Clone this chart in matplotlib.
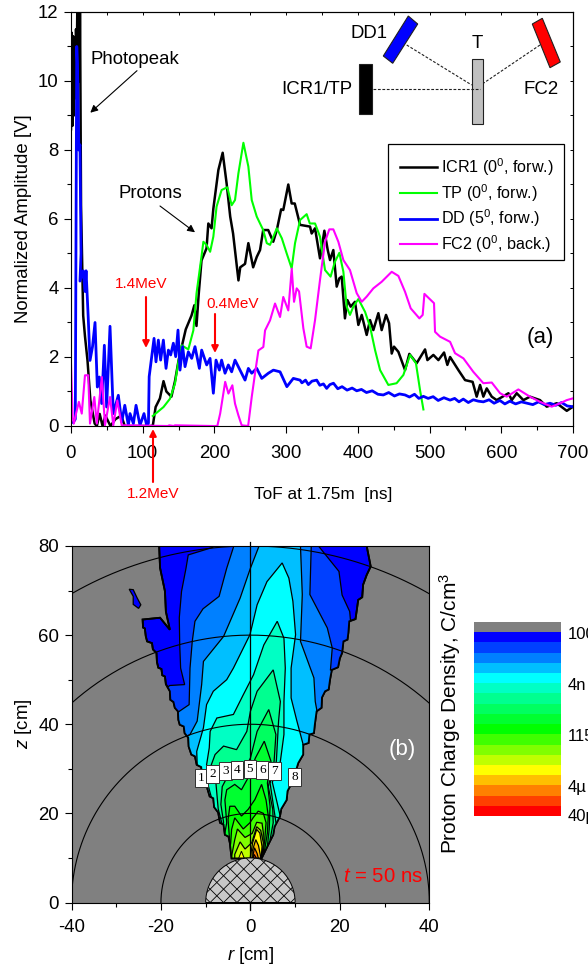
import numpy as np
import matplotlib
matplotlib.use('Agg')
import matplotlib.pyplot as plt
from matplotlib.patches import Polygon, Rectangle, Wedge
from matplotlib.transforms import Affine2D
from matplotlib.ticker import MultipleLocator

plt.rcParams['font.family'] = ['Liberation Sans', 'DejaVu Sans']
plt.rcParams['mathtext.fontset'] = 'custom'
plt.rcParams['mathtext.rm'] = 'Liberation Sans'
plt.rcParams['mathtext.it'] = 'Liberation Sans:italic'
plt.rcParams['mathtext.default'] = 'regular'
plt.rcParams['axes.unicode_minus'] = False

# panel (a): time of flight traces
icr_t = [0,1,2,3,4,5,6,7,8,9,10,11,12,12.5,14,17,19.5,23,27,33,36,40,44,48,55,62,70,75,80,112,114,118,124,129,133,140,145,150,
         160,168,172,175,178,182,189,191.5,196,198.5,205.5,211.5,217,222,226,233.5,236,242.7,247.3,254,259,263.6,268,275,282,287,293,
         296,303,307.7,312,315,319.4,333.3,335.6,340.3,347.2,353.3,358,361.2,365.8,370.5,374.2,377.5,382,385.4,390,396,400.7,405.4,
         412.3,417,421.6,428.6,433.2,439.3,443.5,447.2,450.4,456.5,465.8,471.8,482,493.7,497,505.3,512.3,520.2,524.8,528.6,540.2,
         549.5,560,565.7,570.4,575,579.7,586.7,593.6,610,614.6,621.5,630.8,640,654,663.4,677.3,691.3,700]
icr_v = [8.6,11.4,8.7,11.3,9,11,9.5,11.5,10.5,12.5,11.3,12.5,10,12.5,6.4,3.2,2.6,1.9,0.75,0.07,0,0.35,0,0.3,0,0.2,0.3,0,0,0,0,0.55,0.8,1.3,1,
         0.85,1.3,1.9,2.8,3.2,3.5,2.9,3.8,4.8,5.15,5.87,5.73,6.3,7.42,7.92,7.03,6.07,5.58,4.22,4.6,4.7,5.3,4.6,4.9,5.1,5.68,5.68,5.34,5.68,6.28,
         6.26,7,6.45,6.45,6.2,5.83,5.78,5.58,5.73,4.86,5.66,5.1,4.81,5.1,4.04,4.28,4.33,3.12,3.65,3.46,3.6,2.93,3.22,
         2.64,3.07,2.78,3.27,2.78,3.22,2.98,2.1,2.3,2.15,1.62,2.09,1.82,2.22,1.91,2.06,1.91,2.13,1.77,2,1.62,
         1.33,1.28,0.85,1.19,0.85,1.09,0.85,0.75,0.95,0.75,0.95,0.75,0.85,0.75,0.56,0.66,0.44,0.56]

tp_t = [114,129,138,145,150,154.3,163.6,170.6,175,182.2,184.6,189,194,198.5,203,210,218,224,228.7,233.4,240.4,247.3,252,259,268,273,277.5,
        287,294,300.8,307.7,312.4,319.4,328.6,333,340.3,347.2,354.2,362,368,374.2,379.8,384.4,389,393.7,400.7,410,417,424,431,442.5,454,463.5,
        472.8,481,486.7,491.4]
tp_v = [0.29,0.55,0.79,1.23,1.9,2.34,2.22,2.77,3.84,4.95,5.34,5.25,5.05,5.49,6.36,6.84,6.92,6.4,6.55,7.32,8.21,7.52,6.55,6.07,5.68,5.3,5.25,
        5.73,5.44,5,4.57,5.3,5.97,6.14,5.87,5.87,5.49,4.52,4.33,4.76,5.02,4.47,3.46,3.22,3.46,3.68,3.31,2.88,2.2,1.62,1.19,1.24,1.48,
        2.06,1.82,1.04,0.48]

dd_t = [3,6,8,9,11,12.5,14,12.5,17,19.5,21,24,26.5,30,33.5,36.7,39.5,42.8,46.5,49.7,54.4,59,66,70.7,75,80,82.3,87,90.7,96.2,101.8,105.5,108,
        109,112.5,115.8,118.5,121.8,125,128.8,132.5,135.8,139,142.7,146,149.2,152,155.7,159,163.6,168.3,172.9,179,182.2,189.2,193.9,198.5,202.2,
        206.9,210,214.8,219.4,224,228.7,235.7,242.7,247.3,252,259,266,275.2,282.2,291.5,301,310,319.4,322,327,331,336,342.6,347,352,356.5,361,366,372,378,385,392,398.4,405,412,420,428,435.5,
        443,451,458,465.8,472,479,485,491.4,498,505,512,520,528.6,535,541,547,554,561,568,575,583,590,598,605,612,620,628,636,
        644,652,660,668,676,684,692,699.6]
dd_v = [0.1,0.2,11,10.5,8,8.15,5,4.2,4.5,3.9,4.5,3.15,1.9,2.3,3,1.13,1.42,0.65,2.34,0.55,2.89,0.36,0.89,0.12,0.6,0.02,0.36,0.07,0.6,0.02,0.36,0.02,0.08,
        1.43,2,2.54,1.86,2.49,1.91,2.49,1.67,2.2,2.06,2.4,2.01,2.78,1.62,2.3,1.72,2.15,1.96,2.3,1.67,2.2,1.77,1.96,0.95,1.91,
        1.62,1.91,1.53,1.77,1.57,1.91,1.62,1.33,1.67,1.53,1.67,1.38,1.53,1.62,1.57,1.14,1.38,1.33,1.25,1.33,1.2,1.3,1.33,1.18,1.22,1.09,1.2,1.24,1.08,1.14,1.04,1.1,1.02,1.06,0.97,1.02,0.92,0.9,
        0.97,0.87,0.93,0.9,0.84,0.92,0.8,0.86,0.8,0.85,0.74,0.82,0.75,0.8,0.7,0.78,0.68,0.76,0.72,0.7,0.76,0.66,0.74,0.64,0.72,0.64,0.7,0.66,
        0.62,0.7,0.62,0.66,0.6,0.68,0.58,0.56]

fc_t = [0,2.3,4,7,11,15,19.5,24,26.5,32.5,36,43,47.4,54.4,59,64.6,70.7,135,137,143,145,197,204,208,215,219.5,225,228.7,233.4,238,247,252,256.6,261.3,
        268.2,270.6,277.5,284.5,291.5,296,303,307.8,311,314.7,318,324,328.6,334.2,340.3,347.2,354.2,360.2,365.8,372.8,379.8,389,398.4,405.4,412.3,
        421.6,433.2,447.2,456.5,465.8,473.7,485.8,490.4,492.8,500.7,506.2,507.6,514.6,528.6,535.5,547.2,561,575,586.7,598.3,607.6,623.8,640,654,
        670.3,682,691.3,699.6]
fc_v = [1.8,0.26,0.07,0.36,0.7,0.36,1.47,1.47,0.07,0.84,0.07,1.42,0.02,0.84,0.02,0.74,0.02,0,0.02,0,0.02,0,0,0.36,1.28,0.94,1.18,0.65,0.31,0.02,0,0.84,1.52,2.19,
        2.29,2.77,3.06,3.55,3.16,3.74,3.35,4.56,3.6,3.99,3.9,2.83,2.3,2.25,3.07,4.23,5.34,5.7,5.7,5.34,4.81,4.52,3.85,3.6,3.75,
        3.99,4.18,4.47,4.35,3.89,3.41,3.12,3.22,3.83,3.67,3.56,2.73,2.59,2.44,2.11,1.96,1.57,1.24,1.26,0.95,0.85,1.06,0.85,0.7,
        0.56,0.66,0.75,0.8]

trace_labels = ['ICR1 (0$^{0}$, forw.)', 'TP (0$^{0}$, forw.)', 'DD (5$^{0}$, forw.)', 'FC2 (0$^{0}$, back.)']

# panel (b): proton charge density map, nested contour outlines as (r, z) in cm
level_01 = [(-20.4,80),(-20.2,75.1),(-19.1,69.8),(-18.9,65.3),(-18,61.2),(-20.2,63.9),(-24.1,63.5),(-24,61.7),(-23.6,61.5),(-23.4,59.8),(-23.1,58.6),
            (-22,58.2),(-21.8,56.8),(-21,56),(-20.9,54),(-20.6,52.7),(-19.9,52.4),(-19.7,51),(-19.1,50.7),(-18.9,49),(-18,47.4),(-17.9,45.5),(-17.2,45),(-16.9,43.7),(-16.2,42.9),
            (-16.1,41),(-15.8,39.9),(-14.9,39.5),(-14.7,38),(-13.9,37),(-13.8,35),(-13.2,33.2),(-12.4,32.8),(-12,30.9),(-11,30.4),(-10.8,28.6),(-9.8,27.6),(-9.6,25.5),(-9.1,23.8),
            (-8.3,23.4),(-8.1,21.4),(-7.2,20.2),(-6.8,17.9),(-6,17.5),(-5.7,15.2),(-4.9,14.8),(-4.6,13.4),(-4.2,9.9),
            (2.5,9.9),(4,13),(5.1,15.2),(5.4,17),(6.6,19.3),(6.9,21),(8.1,23),(8.3,25),(8.8,26),(9.7,26.4),(10,29),(10.7,31.3),(11.8,33.2),(11.8,35.4),(13,35.8),(13.2,37.7),(14.2,38),(14.4,39.9),
            (14.8,42.9),(15.9,43.7),(16,46),(16.7,47.4),(17.5,47.8),(17.8,50),(18.2,52.2),(19.6,52.8),(20,54.8),(20.5,56),(20.8,58.6),(21.7,59),(21.9,60.5),(22.1,63.1),(23.5,63.6),(23.8,65.7),
            (24.1,67.9),(25,68.5),(25.2,71.3),(26,73.5),(26.9,75.4),(26,80)]
level_island = [(-27.1,70.3),(-26.2,70.2),(-25.3,68.3),(-24.5,66.8),(-25,66),(-26.2,66.9),(-26.2,68.7)]
level_02 = [(-8.4,79.7),(-13.9,78),(-14.4,75),(-15.4,69.8),(-15.9,63.9),(-15.8,57.8),(-15.6,52.6),(-14.7,48.9),(-18,48.7),(-22,46),(-22,5),(30,5),(30,60),(22.4,63),
            (22.2,65.3),(20.5,69),(19.8,74.3),(15.3,79.9),(15.3,82),(-7,82)]
level_03 = [(-3.8,82),(-3.8,79.7),(-5.3,75),(-7,68.7),(-10.6,65.9),(-12.4,63.1),(-13,58.6),(-13.5,52.6),(-13.7,44.4),(-15.9,42.9),(-20,40),(-20,5),(22,5),(22,50),
            (17.9,52.2),(18.3,57.1),(17.2,61.6),(13.3,69.1),(13.6,79.9),(13.6,82)]
level_04 = [(1.9,82),(1.9,79.9),(0,75),(-2.3,68.3),(-6,59.7),(-10.5,54.1),(-10.9,48.9),(-11.9,40.7),(-13.5,37.7),(-18,35),(-18,5),(18,5),(18,40),
            (14.9,42.9),(14.5,45.1),(14.2,50.4),(11.2,58.6),(11.6,69.1),(11.2,79.9),(11.2,82)]
level_05 = [(7.1,76.2),(3.7,72),(1.5,66.8),(-0.1,60.1),(-3.8,52.6),(-5.3,50),(-8.3,47.4),(-9.8,44.4),(-10.5,39.2),(-12,33.9),(-11.9,30.9),(-16,28),(-16,5),(15,5),(15,33),
            (11.8,35.4),(11.2,37.7),(10.4,40.7),(9.1,45.9),(9.1,52.6),(10.1,60.1),(9.5,67.6),(8.6,72.8)]
level_06 = [(6,63.1),(3,57.8),(0.7,51.1),(-1.6,46.6),(-3.8,42.2),(-7.5,41.4),(-9,38.4),(-9.2,34.7),(-9.8,30.9),(-9.4,26.1),(-7.6,19.4),(-9,17),(-9,5),(9,5),(9,17),
            (6.6,19.7),(4.9,27),(6.7,31.7),(7.5,37.7),(7.5,45.1),(7.8,52.6),(7.5,59.3)]
level_07 = [(5.1,52.2),(1.5,47.4),(0,42.9),(-0.8,38.4),(-3.1,34.3),(-6,35.1),(-7.9,33.2),(-9,30.2),(-7.9,29),(-7.2,21),(-6.4,17.9),(-8,15),(-8,5),(8,5),(8,15),
            (5.7,18),(4.4,26.8),(5.8,31.7),(6.3,40.7),(6.7,45.1)]
level_08 = [(4.1,43.3),(1.5,38.4),(0,32.4),(-1.6,29.4),(-5,28.5),(-6.3,26),(-6.6,22),(-6,18),(-7,14),(-7,5),(7,5),(7,14),(4.4,14.1),(5.1,17.9),(5,20.9),(4,26),(5.3,31.7),(5.7,37.7)]
level_09 = [(3.1,36.2),(1.1,32.4),(-0.5,28),(-2,25.3),(-3.5,26.5),(-5.3,25.3),(-5.7,23),(-5.3,17.9),(-6,14),(-6,5),(6,5),(6,11),(3.8,12.6),(4.2,16.4),(4.4,21.6),(3.8,26.8),(4.6,31.7)]
level_10 = [(2.5,26.5),(1,23.1),(-0.5,20.9),(-2,19.4),(-3.5,21.6),(-4.6,21.6),(-5,18.6),(-4.6,13.4),(-5.5,9),(-5.5,5),(5,5),(5,9),(2.9,9.6),(3.2,11.9),(3.8,15.6),(4,19.4),(3.5,23)]
level_11 = [(1.75,20.5),(0.6,19),(-0.1,17.9),(-1.6,16.5),(-3.5,19),(-4.2,16.4),(-4.4,13.4),(-5,9),(-5,5),(5,5),(5,9),(2.7,9.6),(3.2,14.1),(3.5,17.9),(2.9,20)]
level_12 = [(1.4,18),(0.4,15.5),(-1.2,14.6),(-2.9,16.5),(-3.5,14.1),(-4.2,10.4),(-4.5,5),(4.5,5),(4,9),(2.6,9.6),(2.9,15.6),(2.6,17.8)]
level_13 = [(1.4,17),(0.3,13.4),(-1.2,12),(-2.3,13.6),(-3.5,10.8),(-3.5,5),(4,5),(4,9),(2.5,9.6),(2.9,13.4),(2.3,16.2)]
level_14 = [(1.4,16.4),(0.5,13.4),(0,10.4),(-0.2,5),(4,5),(4,9),(2.4,9.6),(2.6,12.6),(2.1,15.6)]
level_14b = [(-2,11.5),(-3,9),(-1,9)]
level_15 = [(1.2,14.1),(0.4,11.5),(0.3,5),(3,5),(2.2,10.8),(1.8,12.8)]
level_16 = [(0.9,12.3),(0.4,9.5),(1.9,9.5),(1.5,11)]
level_17 = [(0.8,10.8),(0.5,9.5),(1.4,9.5),(1.2,10.2)]

level_polygons = [level_02, level_03, level_04, level_05, level_06, level_07, level_08, level_09, level_10, level_11,
                  level_12, level_13, level_14, level_15, level_16, level_17]
band_colors = ['#808080', '#0000ff', '#0040ff', '#0080ff', '#00bfff', '#00ffff', '#00ffc4', '#00ff90', '#00ff60', '#00ff30',
               '#00ff00', '#40ff00', '#80ff00', '#bfff00', '#ffff00', '#ffbf00', '#ff8000', '#ff4000', '#ff0000']
arc_radii = [20, 40, 60, 80]
probe_r = [-10.9, -8.5, -5.6, -2.95, -0.1, 2.7, 5.4, 9.9]
probe_z = [28, 28.8, 29.5, 29.8, 29.9, 29.8, 29.5, 28.2]
probe_names = ['1', '2', '3', '4', '5', '6', '7', '8']
cbar_labels = ['100p', '4n', '115n', '4µ', '40µ']
cbar_label_y = [635, 685, 736.7, 787.3, 817]

W, H = 588, 967
fig = plt.figure(figsize=(W/100, H/100), dpi=100)
pix = Affine2D().scale(1, -1).translate(0, H)  # reference pixels -> display


def axes_px(left, top, right, bottom):
    return fig.add_axes([left/W, 1-bottom/H, (right-left)/W, (bottom-top)/H])


fs = 13.4
# ---------------- panel a
ax = axes_px(71, 12, 573, 426)
ax.plot(icr_t, icr_v, color='k', lw=1.8, label=trace_labels[0])
ax.plot(tp_t, tp_v, color='#00ff00', lw=1.5, label=trace_labels[1])
ax.plot(dd_t, dd_v, color='#0000ff', lw=2.0, label=trace_labels[2])
ax.plot(fc_t, fc_v, color='#ff00ff', lw=1.5, label=trace_labels[3])
ax.set_xlim(0, 700)
ax.set_ylim(0, 12)
ax.xaxis.set_major_locator(MultipleLocator(100))
ax.xaxis.set_minor_locator(MultipleLocator(50))
ax.yaxis.set_major_locator(MultipleLocator(2))
ax.yaxis.set_minor_locator(MultipleLocator(1))
ax.tick_params(which='major', length=5, width=0.8, labelsize=fs, pad=4)
ax.tick_params(axis='x', which='major', pad=9)
ax.tick_params(which='minor', length=3, width=0.8)
top = ax.secondary_xaxis('top')
top.xaxis.set_major_locator(MultipleLocator(50))
top.tick_params(direction='in', length=2, width=0.7, labeltop=False)
right = ax.secondary_yaxis('right')
right.yaxis.set_major_locator(MultipleLocator(1))
right.tick_params(direction='in', length=2, width=0.7, labelright=False)
ax.set_ylabel('Normalized Amplitude [V]', fontsize=fs, labelpad=4)
fig.text(323, 494, 'ToF at 1.75m  [ns]', transform=pix, fontsize=fs-1, ha='center', va='center')

ax.add_patch(Rectangle((388.3, 144.3), 176, 115.7, transform=pix, facecolor='white', edgecolor='k', lw=0.9, zorder=4.5, clip_on=False))
leg = ax.legend(loc='upper left', bbox_to_anchor=(388.3, 144.3), bbox_transform=pix, fontsize=11.6, frameon=False,
                borderaxespad=0, borderpad=0.75, handlelength=2.25, handletextpad=0.3, labelspacing=0.24)

# set-up sketch
sketch = [([(408.3,16),(417.7,24),(392.7,63.3),(383.3,56)], '#0000ff'),
          ([(542.3,18.3),(532.3,24),(550,67.7),(560.3,62)], '#ff0000'),
          ([(359,64.3),(371.7,64.3),(371.7,114),(359,114)], '#000000'),
          ([(471.7,59),(483.3,59),(483.3,124.3),(471.7,124.3)], '#c0c0c0')]
for pts, col in sketch:
    fig.add_artist(Polygon(pts, closed=True, facecolor=col, edgecolor='#202020', lw=0.8, transform=pix))
for x0, y0, x1, y1 in [(373.3,89,480,89), (406.7,45,471.7,85), (540,45,483.3,83.3)]:
    fig.add_artist(plt.Line2D([x0, x1], [y0, y1], color='#202020', lw=0.8, ls=(0, (2.5, 1.5)), transform=pix))
for s, x, y, ha in [('DD1', 369.5, 34, 'center'), ('T', 477, 43, 'center'), ('ICR1/TP', 352.7, 89, 'right'), ('FC2', 541, 89, 'center'),
                    ('Photopeak', 90, 59, 'left'), ('Protons', 119, 193, 'left')]:
    fig.text(x, y, s, transform=pix, fontsize=fs, ha=ha, va='center')
fig.text(540, 338, '(a)', transform=pix, fontsize=16, ha='center', va='center')


def arrow(x0, y0, x1, y1, col, lw, size):
    ann = fig.add_artist(matplotlib.patches.FancyArrowPatch((x0, y0), (x1, y1), transform=pix, color=col, lw=lw,
                         arrowstyle='-|>', mutation_scale=size, shrinkA=0, shrinkB=0))
    return ann


arrow(137, 70.7, 90.3, 112.7, 'k', 0.8, 11)
arrow(160, 206, 195, 232.3, 'k', 0.8, 11)
arrow(146, 297, 146, 348, '#ff0000', 1.5, 10)
arrow(215, 314, 215, 353, '#ff0000', 1.5, 10)
arrow(153, 482, 153, 429, '#ff0000', 1.5, 10)
for s, x, y in [('1.4MeV', 141.3, 283.5), ('0.4MeV', 233, 304.5), ('1.2MeV', 153.5, 494)]:
    fig.text(x, y, s, transform=pix, fontsize=11, color='#ff0000', ha='center', va='center')

# ---------------- panel b
bx = axes_px(71.5, 546, 429.3, 902.5)
bx.set_facecolor(band_colors[0])
bx.set_xlim(-40, 40)
bx.set_ylim(0, 80)
outer = Polygon(level_01, closed=True, facecolor=band_colors[1], edgecolor='k', lw=1.3, zorder=2)
bx.add_patch(outer)
bx.add_patch(Polygon(level_island, closed=True, facecolor=band_colors[1], edgecolor='k', lw=0.9, zorder=2))
for i, pts in enumerate(level_polygons):
    p = Polygon(pts, closed=True, facecolor=band_colors[i+2], edgecolor='k', lw=0.9, zorder=3)
    bx.add_patch(p)
    p.set_clip_path(outer)
blob = Polygon(level_14b, closed=True, facecolor=band_colors[14], edgecolor='k', lw=0.7, zorder=3)
bx.add_patch(blob)
blob.set_clip_path(outer)
# redraw the outline above the bands
bx.add_patch(Polygon(level_01, closed=True, facecolor='none', edgecolor='k', lw=1.3, zorder=4))

th = np.linspace(0, np.pi, 300)
for rad in arc_radii:
    bx.plot(rad*np.cos(th), rad*np.sin(th), color='k', lw=0.8, zorder=5)
bx.plot([0, 0], [-1.6, 81], color='k', lw=0.9, zorder=5, clip_on=False)

target = Wedge((0, 0), 10, 0, 180, facecolor='#c8c8c8', edgecolor='k', lw=0.7, zorder=6)
bx.add_patch(target)
for c in np.arange(-12, 13, 3.0):
    for sgn in (1, -1):
        ln, = bx.plot([c-12*sgn, c+12*sgn], [-12, 12], color='k', lw=0.6, zorder=7)
        ln.set_clip_path(target)

bx.xaxis.set_major_locator(MultipleLocator(20))
bx.xaxis.set_minor_locator(MultipleLocator(10))
bx.yaxis.set_major_locator(MultipleLocator(20))
bx.yaxis.set_minor_locator(MultipleLocator(10))
bx.tick_params(which='major', length=5, width=0.8, labelsize=fs, pad=4)
bx.tick_params(axis='x', which='major', pad=7)
bx.tick_params(which='minor', length=3, width=0.8)
bx.set_axisbelow(False)
for sp in bx.spines.values():
    sp.set_zorder(8)
bx.set_xlabel('$\\mathit{r}$ [cm]', fontsize=fs, labelpad=6)
bx.set_ylabel('$\\mathit{z}$ [cm]', fontsize=fs, labelpad=3)

for r, z, s in zip(probe_r, probe_z, probe_names):
    bx.text(r, z, s, fontsize=9.5, family='Liberation Serif', ha='center', va='center', zorder=9,
            bbox=dict(boxstyle='square,pad=0.22', facecolor='white', edgecolor='#303030', lw=0.7))

fig.text(402, 750, '(b)', transform=pix, fontsize=16, color='white', ha='center', va='center', zorder=10)
fig.text(383.3, 877, '$\\mathit{t}$ = 50 ns', transform=pix, fontsize=14.7, color='#ff0000', ha='center', va='center', zorder=10)

# ---------------- colour scale
cx = axes_px(474, 622, 561, 816)
cx.pcolormesh(np.array([[i] for i in range(len(band_colors))]), cmap=matplotlib.colors.ListedColormap(band_colors[::-1]),
              vmin=-0.5, vmax=len(band_colors)-0.5)
cx.axis('off')
for s, y in zip(cbar_labels, cbar_label_y):
    fig.text(567.7, y, s, transform=pix, fontsize=12, ha='left', va='center')
fig.text(450, 713, 'Proton Charge Density, C/cm$^{3}$', transform=pix, fontsize=15, rotation=90, ha='center', va='center')

fig.savefig('out.png', dpi=100)
